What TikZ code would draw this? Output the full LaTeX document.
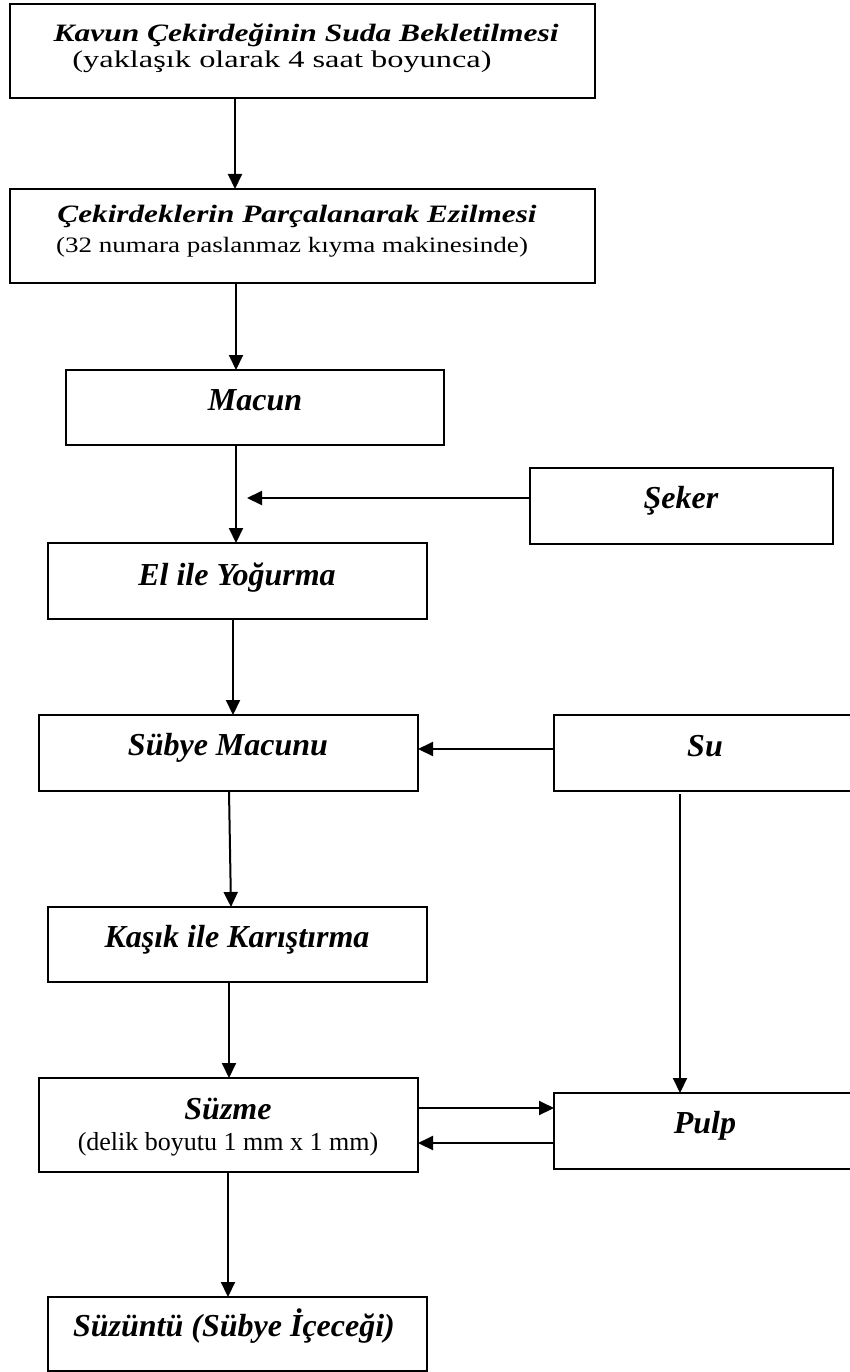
\documentclass[tikz,border=0pt]{standalone}
\usepackage{fontspec}
\setmainfont{Liberation Serif}
\usepackage{graphicx}
\usetikzlibrary{arrows.meta}
\tikzset{
 box/.style={draw, line width=2pt, rectangle, inner sep=0pt, outer sep=0pt, anchor=north west},
 txt/.style={inner sep=0pt, outer sep=0pt, anchor=base},
 big/.style={font=\fontsize{32}{36}\selectfont\bfseries\itshape},
 ttl/.style={font=\fontsize{25}{28}\selectfont\bfseries\itshape},
 arr/.style={line width=2pt, -{Triangle[length=15pt,width=14pt]}},
}
\begin{document}
\begin{tikzpicture}[x=1pt,y=-1pt]
\useasboundingbox (0,0) rectangle (849,1372);
\fill[white] (0,0) rectangle (849,1372);

% boxes
\node[box, minimum width=585pt, minimum height=94pt] (b1) at (10,4) {};
\node[box, minimum width=585pt, minimum height=94pt] (b2) at (10,189) {};
\node[box, minimum width=378pt, minimum height=75pt] (macun) at (66,370) {};
\node[box, minimum width=303pt, minimum height=76pt] (seker) at (530,468) {};
\node[box, minimum width=379pt, minimum height=76pt] (el) at (48,543) {};
\node[box, minimum width=379pt, minimum height=76pt] (subye) at (39,715) {};
\node[box, minimum width=302pt, minimum height=76pt] (su) at (554,715) {};
\node[box, minimum width=379pt, minimum height=75pt] (kasik) at (48,907) {};
\node[box, minimum width=379pt, minimum height=94pt] (suzme) at (39,1078) {};
\node[box, minimum width=302pt, minimum height=76pt] (pulp) at (554,1093) {};
\node[box, minimum width=379pt, minimum height=74pt] (suzuntu) at (48,1297) {};

% texts
\node[txt, ttl] (b1t) at (306,42) {\scalebox{1.26}[1]{Kavun Çekirdeğinin Suda Bekletilmesi}};
\node[txt, font=\fontsize{24}{28}\selectfont] (b1s) at (282,68) {\scalebox{1.35}[1]{(yaklaşık olarak 4 saat boyunca)}};
\node[txt, ttl] (b2t) at (297,223) {\scalebox{1.25}[1]{Çekirdeklerin Parçalanarak Ezilmesi}};
\node[txt, font=\fontsize{22}{26}\selectfont] (b2s) at (292,253) {\scalebox{1.23}[1]{(32 numara paslanmaz kıyma makinesinde)}};
\node[txt, big] (macunt) at (255,410) {Macun};
\node[txt, big] (sekert) at (681,508) {Şeker};
\node[txt, big] (elt) at (237,585) {El ile Yoğurma};
\node[txt, big] (subyet) at (228,755) {Sübye Macunu};
\node[txt, big] (sut) at (705,756) {Su};
\node[txt, big] (kasikt) at (237,947) {Kaşık ile Karıştırma};
\node[txt, big] (suzmet) at (228,1119) {Süzme};
\node[txt, font=\fontsize{26}{30}\selectfont] (suzmes) at (228,1150) {(delik boyutu 1 mm x 1 mm)};
\node[txt, big] (pulpt) at (705,1133) {Pulp};
\node[txt, big] (suzuntut) at (234,1336) {Süzüntü (Sübye İçeceği)};

% connector helper coordinates
\coordinate (xa) at (235,0);
\coordinate (xb) at (236,0);
\coordinate (xc) at (233,0);
\coordinate (xd1) at (229,0);
\coordinate (xd2) at (231,0);
\coordinate (xe) at (229,0);
\coordinate (xf) at (228,0);
\coordinate (sk) at (247,498);
\coordinate (suy) at (0,749);
\coordinate (sud) at (680,794);
\coordinate (p1) at (0,1108);
\coordinate (p2) at (0,1143);

% connectors
\draw[arr] (b1.south -| xa) -- (b2.north -| xa);
\draw[arr] (b2.south -| xb) -- (macun.north -| xb);
\draw[arr] (macun.south -| xb) -- (el.north -| xb);
\draw[arr] (seker.west |- sk) -- (sk);
\draw[arr] (el.south -| xc) -- (subye.north -| xc);
\draw[arr] (su.west |- suy) -- (subye.east |- suy);
\draw[arr] (subye.south -| xd1) -- (kasik.north -| xd2);
\draw[arr] (sud) -- (pulp.north -| sud);
\draw[arr] (kasik.south -| xe) -- (suzme.north -| xe);
\draw[arr] (suzme.east |- p1) -- (pulp.west |- p1);
\draw[arr] (pulp.west |- p2) -- (suzme.east |- p2);
\draw[arr] (suzme.south -| xf) -- (suzuntu.north -| xf);
\end{tikzpicture}
\end{document}
